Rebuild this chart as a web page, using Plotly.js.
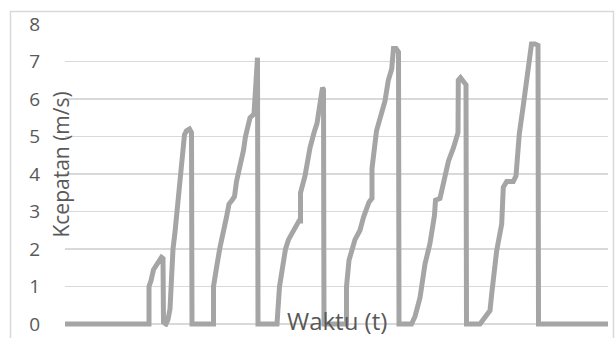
<!DOCTYPE html>
<html>
<head>
<meta charset="utf-8">
<script src="https://cdn.plot.ly/plotly-3.0.1.min.js"></script>
<style>
html,body{margin:0;padding:0;background:#fff;}
#chart{width:616px;height:338px;}
</style>
</head>
<body>
<div id="chart"></div>
<script>
// Time (arbitrary units) and speed (m/s)
var waktu = [0, 84, 84, 86, 88.5, 91.5, 96.5, 98, 98.5, 101, 103, 105, 106.5, 108, 110, 113.5, 116.5, 119.5, 121.5, 124.5, 126.5, 127,
  148.5, 148.5, 151.5, 155, 161.5, 164, 167, 169.5, 171.5, 175, 178.5, 180.5, 185, 189, 192.5, 193,
  212, 214.5, 220.5, 223.5, 227, 230.5, 234, 235.5, 235.5, 240, 245, 249, 252, 257.5, 258.5, 259,
  281.5, 281.5, 284, 290, 295, 298.5, 304, 307, 307, 311.5, 315, 320, 323.3, 326.7, 328.5, 331, 333.5, 334,
  346.5, 350, 352.5, 355, 360, 365, 369.5, 370.5, 375, 380, 383.5, 388.5, 393, 393.3, 395.5, 401, 401.5,
  415, 420, 425, 426.7, 431.7, 436.7, 438.3, 441.7, 448.3, 451, 454.3, 458.3, 461.7, 465, 466.5, 470, 473, 473.5, 543];
var kecepatan = [0, 0, 1.0, 1.15, 1.45, 1.6, 1.78, 1.75, 0.05, 0, 0.12, 0.4, 1.5, 2.0, 2.45, 3.3, 4.1, 5.05, 5.15, 5.2, 5.1, 0,
  0, 1.0, 1.5, 2.05, 2.85, 3.2, 3.3, 3.4, 3.8, 4.2, 4.63, 5.0, 5.5, 5.6, 7.1, 0,
  0, 1.0, 2.0, 2.25, 2.4, 2.6, 2.75, 2.75, 3.5, 3.95, 4.7, 5.1, 5.35, 6.3, 6.25, 0,
  0, 1.0, 1.7, 2.25, 2.5, 2.85, 3.25, 3.35, 4.15, 5.15, 5.45, 5.95, 6.5, 6.8, 7.35, 7.35, 7.25, 0,
  0, 0.2, 0.45, 0.7, 1.6, 2.15, 2.9, 3.3, 3.35, 3.9, 4.35, 4.7, 5.1, 6.5, 6.57, 6.38, 0,
  0, 0.18, 0.36, 0.8, 1.96, 2.67, 3.65, 3.8, 3.8, 3.95, 5.07, 5.83, 6.58, 7.38, 7.47, 7.47, 7.43, 0, 0];
var yTicks = [0, 1, 2, 3, 4, 5, 6, 7, 8];
var xTitle = 'Waktu (t)';
var yTitle = 'Kcepatan (m/s)';

var textColor = '#595959';
var font = '"Open Sans", "Liberation Sans", sans-serif';

var trace = {
  x: waktu,
  y: kecepatan,
  type: 'scatter',
  mode: 'lines',
  line: {color: '#A5A5A5', width: 5, shape: 'linear'},
  hoverinfo: 'skip'
};

var layout = {
  width: 616,
  height: 338,
  margin: {l: 65, r: 8, t: 24, b: 11, pad: 0},
  paper_bgcolor: '#ffffff',
  plot_bgcolor: '#ffffff',
  showlegend: false,
  xaxis: {
    range: [0, 543],
    showticklabels: false,
    showgrid: false,
    zeroline: false,
    showline: false,
    ticks: ''
  },
  yaxis: {
    range: [-0.08, 8],
    tickvals: yTicks,
    ticktext: yTicks.map(String),
    showgrid: true,
    gridcolor: '#D9D9D9',
    gridwidth: 1.5,
    zeroline: false,
    showline: false,
    ticks: 'outside',
    ticklen: 20,
    tickcolor: 'rgba(0,0,0,0)',
    tickfont: {family: font, size: 19, color: textColor}
  },
  shapes: [{
    type: 'rect', xref: 'paper', yref: 'paper',
    x0: -0.1004, x1: 1.0101, y0: -0.06, y1: 1.0413,
    line: {color: '#D9D9D9', width: 1.5},
    fillcolor: 'rgba(0,0,0,0)',
    layer: 'below'
  }],
  annotations: [
    {
      text: yTitle, xref: 'paper', yref: 'paper',
      x: -0.0074, y: 0.536, xanchor: 'center', yanchor: 'middle',
      textangle: -90, showarrow: false,
      font: {family: font, size: 21, color: textColor}
    },
    {
      text: xTitle, xref: 'paper', yref: 'paper',
      x: 0.5, y: 0.02, xanchor: 'center', yanchor: 'middle',
      showarrow: false,
      font: {family: font, size: 24, color: textColor}
    }
  ]
};

Plotly.newPlot('chart', [trace], layout, {staticPlot: true, displayModeBar: false});
</script>
</body>
</html>
